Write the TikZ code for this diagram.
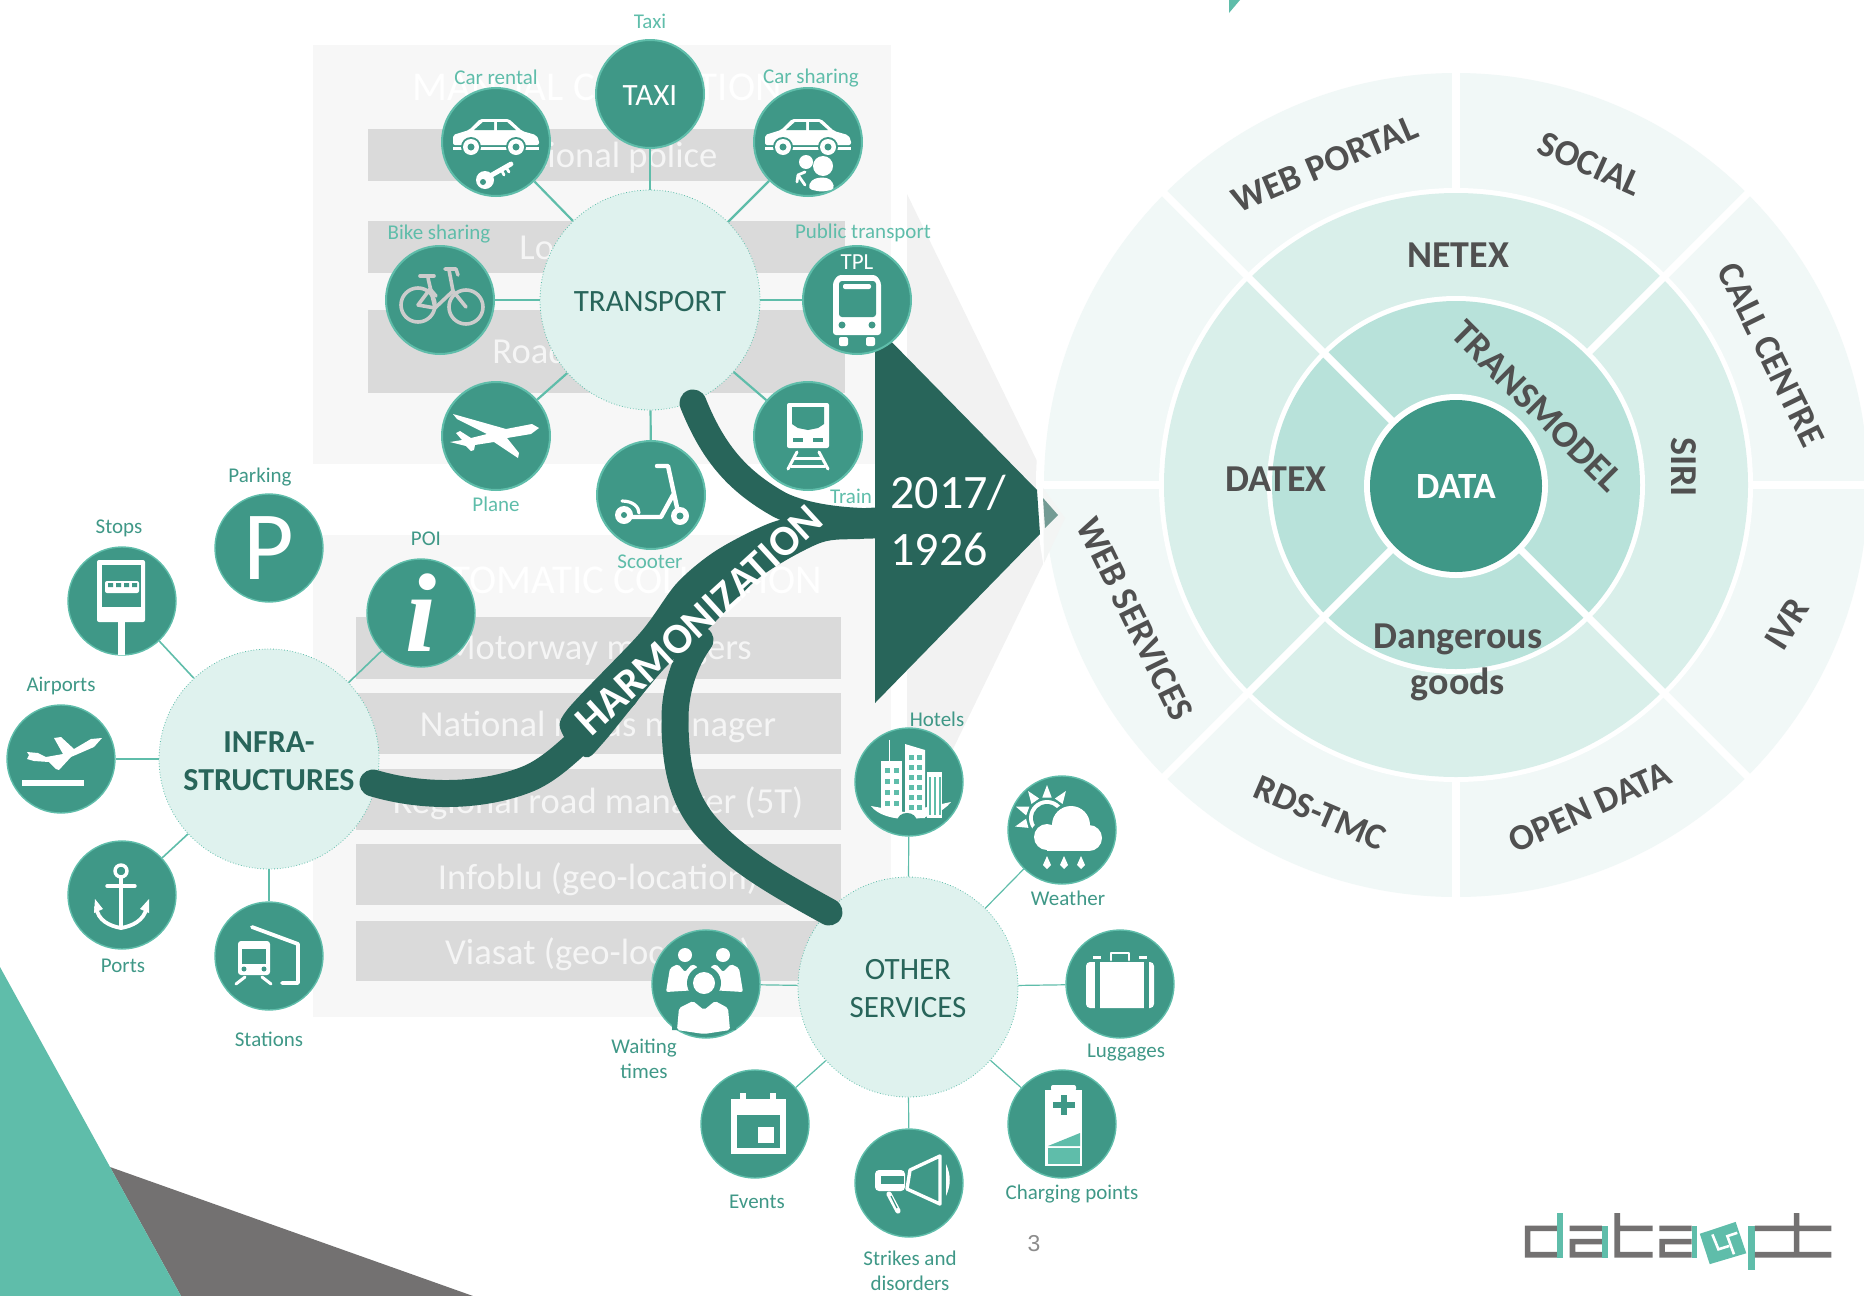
\documentclass[tikz,border=0pt]{standalone}
\usepackage{fontspec}
\setmainfont{Carlito}
\newfontfamily\poifont{Liberation Serif}
\newfontfamily\pagefont{Liberation Sans}
\usetikzlibrary{shapes.geometric, arrows.meta, positioning}
\definecolor{SvcTeal}{HTML}{3F9887}
\definecolor{MintTeal}{HTML}{5FBDAA}
\definecolor{FlowDark}{HTML}{28655A}
\definecolor{HubMint}{HTML}{DFF2EE}
\definecolor{RingOuter}{HTML}{F1F8F7}
\definecolor{RingMiddle}{HTML}{D9EFEA}
\definecolor{RingInner}{HTML}{B8E2DA}
\definecolor{WheelText}{HTML}{505050}
\definecolor{PanelGray}{HTML}{F7F7F7}
\definecolor{RowGray}{HTML}{DADADA}
\definecolor{LogoGray}{HTML}{737171}
\tikzset{
  hubnode/.style={circle, fill=HubMint, draw=MintTeal, densely dotted, line width=0.4pt,
    minimum size=110pt, inner sep=0pt},
  hubtext/.style={solid, text=FlowDark, align=center, inner sep=0pt, yshift=-1pt,
    font=\fontsize{15.5}{19}\selectfont},
  satnode/.style={circle, fill=SvcTeal, draw=MintTeal, line width=1pt,
    minimum size=54pt, inner sep=0pt, text=white},
  spoke/.style={draw=MintTeal, line width=1.1pt},
  blendlabel/.style={text=MintTeal, align=center, inner sep=0pt, font=\fontsize{10.5}{12.5}\selectfont},
  darklabel/.style={blendlabel, text=SvcTeal},
  rowtext/.style={text=white!96!black, inner sep=0pt, font=\fontsize{18.3}{22}\selectfont},
  headtext/.style={text=white, inner sep=0pt, font=\fontsize{20.5}{24}\selectfont},
  wheeltext/.style={text=WheelText, inner sep=0pt, align=center, font=\fontsize{19}{23}\selectfont\bfseries},
  rimtext/.style={wheeltext, font=\fontsize{18.3}{22}\selectfont\bfseries},
  flowline/.style={draw=FlowDark, line width=13.5pt, line cap=round},
  gapline/.style={draw=white, line width=3.6pt},
  cutout/.style={fill=SvcTeal},
  bikeline/.style={draw=black!20, line width=1.8pt, line cap=round, line join=round},
  iconline/.style={draw=white, line cap=round, line join=round},
  logobar/.style={fill=LogoGray},
  logoaccent/.style={fill=MintTeal},
}
\newcommand{\drawcar}{%
  \fill[white, rounded corners=1pt] (-43,3) -- (-43,-7) -- (-27,-12) -- (-16,-23) -- (13,-23) -- (26,-11) -- (40,-7) -- (43,-2) -- (43,3) -- cycle;
  \fill[cutout] (-22,-12) -- (-13,-20) -- (-2,-20) -- (-2,-12) -- cycle;
  \fill[cutout] (1,-12) -- (1,-20) -- (11,-20) -- (20,-12) -- cycle;
  \fill[white] (-43,5) rectangle (43,8);
  \foreach \wx in {-25,20} {
    \fill[cutout] (\wx,5) circle[radius=10];
    \fill[white] (\wx,5) circle[radius=8];
    \fill[cutout] (\wx,5) circle[radius=3.5];
  }%
}
\begin{document}
\begin{tikzpicture}[x=0.5pt, y=-0.5pt]
  \useasboundingbox (0,0) rectangle (1864,1296);

  % corner shapes
  \fill[LogoGray] (110,1167) -- (473,1296) -- (181,1296) -- cycle;
  \fill[MintTeal] (0,967) -- (181,1296) -- (0,1296) -- cycle;
  \fill[MintTeal] (1229,0) -- (1240,0) -- (1229,13) -- cycle;

  % grey panels
  \fill[PanelGray] (313,45) rectangle (891,464);
  \fill[PanelGray] (313,535) rectangle (891,1017);
  \fill[RowGray] (368,129) rectangle (845,181);
  \fill[RowGray] (368,221) rectangle (845,273);
  \fill[RowGray] (368,310) rectangle (845,393);
  \fill[RowGray] (356,617) rectangle (841,679);
  \fill[RowGray] (356,693) rectangle (841,754);
  \fill[RowGray] (356,769) rectangle (841,830);
  \fill[RowGray] (356,844) rectangle (841,905);
  \fill[RowGray] (356,921) rectangle (841,981);
  \node[headtext] (manualhead) at (597,87) {MANUAL COLLECTION};
  \node[headtext] (autohead) at (612,580) {AUTOMATIC COLLECTION};
  \node[rowtext] (rowpolice) at (606,158) {National police};
  \node[rowtext] (rowlocal) at (606,250) {Local police};
  \node[rowtext, anchor=west] (rowroad) at (492,354) {Road police};
  \node[rowtext] (rowmotor) at (598,651) {Motorway managers};
  \node[rowtext] (rownational) at (598,727) {National roads manager};
  \node[rowtext] (rowregional) at (598,803) {Regional road manager (5T)};
  \node[rowtext] (rowinfoblu) at (598,879) {Infoblu (geo-location)};
  \node[rowtext] (rowviasat) at (598,954) {Viasat (geo-location)};

  % wheel
  \fill[black!5] (907,194) -- (1037,461) -- (1043,564) -- (953,749) -- (907,749) -- cycle;
  \coordinate (wheel) at (1456,485);
  \fill[white] (wheel) circle[radius=420];
  \fill[RingOuter] (wheel) circle[radius=412];
  \fill[white] (wheel) circle[radius=297];
  \fill[RingMiddle] (wheel) circle[radius=292];
  \fill[white] (wheel) circle[radius=189];
  \fill[RingInner] (wheel) circle[radius=184];
  \begin{scope}[shift={(wheel)}]
    \foreach \ang in {45,135,225}
      \draw[gapline] (\ang:90) -- (\ang:418);
    \draw[gapline] (315:186) -- (315:418);
    \foreach \ang in {0,90,180,270}
      \draw[gapline] (\ang:295) -- (\ang:418);
  \end{scope}
  \fill[white] (1456,486) circle[radius=92];
  \node[circle, fill=SvcTeal, minimum size=86pt, inner sep=0pt, text=white,
    font=\fontsize{18.5}{22}\selectfont\bfseries] (datacore) at (1456,486) {DATA};
  \node[rimtext, rotate=23] (webportal) at (1325,164) {WEB PORTAL};
  \node[rimtext, rotate=-24] (social) at (1590,164) {SOCIAL};
  \node[rimtext, rotate=-64] (callcentre) at (1771,355) {CALL CENTRE};
  \node[rimtext, rotate=58] (ivr) at (1787,624) {IVR};
  \node[rimtext, rotate=24] (opendata) at (1590,807) {OPEN DATA};
  \node[rimtext, rotate=-23] (rdstmc) at (1320,813) {RDS-TMC};
  \node[rimtext, rotate=-64] (webservices) at (1135,619) {WEB SERVICES};
  \node[wheeltext] (netex) at (1458,255) {NETEX};
  \node[wheeltext] (datex) at (1276,479) {DATEX};
  \node[wheeltext, rotate=-90] (siri) at (1684,467) {SIRI};
  \node[wheeltext, rotate=-45] (transmodel) at (1537,406) {TRANSMODEL};
  \node[wheeltext] (dangerous) at (1458,662) {Dangerous\\goods};

  % big arrow
  \fill[RingMiddle!70!black!12] (1043,488) -- (1065,518) -- (1044,563) -- cycle;
  \fill[FlowDark!65] (1043,498) -- (1058,515) -- (1045,528) -- cycle;
  \fill[FlowDark] (875,325) -- (1037,490) -- (1040,534) -- (875,703) -- cycle;
  \node[inner sep=0pt, anchor=west, text=white, align=left, font=\fontsize{24}{28.5}\selectfont] (yeartext) at (890,521) {2017/\\1926};

  % transport
  \node[hubnode, label={[hubtext]center:TRANSPORT}] (transport) at (650,300) {};
  \node[satnode, label={[hubtext, text=white]center:TAXI}] (taxi) at (650,94) {};
  \node[satnode] (carrental) at (496,142) {};
  \node[satnode] (carsharing) at (808,142) {};
  \node[satnode] (bikesharing) at (440,300) {};
  \node[satnode] (tpl) at (857,300) {};
  \node[satnode] (plane) at (496,436) {};
  \node[satnode] (train) at (808,436) {};
  \node[satnode] (scooter) at (651,495) {};
  \foreach \sat in {taxi,carrental,carsharing,bikesharing,tpl,plane,train,scooter}
    \draw[spoke] (transport) -- (\sat);

  % infrastructures
  \node[hubnode, label={[hubtext, font=\fontsize{16}{19}\selectfont\bfseries]center:INFRA-\\STRUCTURES}] (infra) at (269,759) {};
  \node[satnode, line width=0.7pt, font=\fontsize{49}{50}\selectfont] (parking) at (269,548) {P};
  \node[satnode, line width=0.7pt] (stops) at (122,601) {};
  \node[satnode, line width=0.7pt, font=\poifont\bfseries\itshape\fontsize{56}{56}\selectfont] (poi) at (421,613) {i};
  \node[satnode, line width=0.7pt] (airports) at (61,759) {};
  \node[satnode, line width=0.7pt] (ports) at (122,895) {};
  \node[satnode, line width=0.7pt] (stations) at (269,956) {};
  \foreach \sat in {stops,poi,airports,ports,stations}
    \draw[spoke, line width=0.8pt] (infra) -- (\sat);

  % other services
  \node[hubnode, label={[hubtext]center:OTHER\\SERVICES}] (other) at (908,987) {};
  \node[satnode, line width=0.7pt] (hotels) at (909,782) {};
  \node[satnode, line width=0.7pt] (weather) at (1062,830) {};
  \node[satnode, line width=0.7pt] (luggages) at (1120,984) {};
  \node[satnode, line width=0.7pt] (charging) at (1062,1124) {};
  \node[satnode, line width=0.7pt] (strikes) at (909,1183) {};
  \node[satnode, line width=0.7pt] (events) at (755,1124) {};
  \node[satnode, line width=0.7pt] (waiting) at (706,984) {};
  \foreach \sat in {hotels,weather,luggages,charging,strikes,events,waiting}
    \draw[spoke, line width=0.6pt] (other) -- (\sat);

  % harmonization flows
  \coordinate (flowinfra) at (373,783);
  \coordinate (flowtransport) at (693,403);
  \coordinate (flowother) at (829,912);
  \coordinate (flowarrow) at (885,522);
  \draw[flowline] (flowinfra) .. controls (430,800) and (490,795) .. (530,778) .. controls (552,768) and (570,750) .. (600,722) -- (625,695);
  \draw[flowline] (flowtransport) .. controls (712,450) and (735,480) .. (780,505) .. controls (805,517) and (840,522) .. (flowarrow);
  \draw[flowline] (flowother) .. controls (780,885) and (735,860) .. (705,825) .. controls (680,795) and (675,760) .. (675,718) .. controls (675,690) and (685,660) .. (700,640);
  \fill[FlowDark] plot[smooth cycle] coordinates {(562,733) (567,710) (640,633) (677,583) (717,550) (773,522) (827,512) (880,508) (885,522) (880,537) (860,539) (820,543) (760,577) (710,627) (663,670) (603,743) (585,757)};
  \node[inner sep=0pt, rotate=42.5, text=white, font=\fontsize{21.5}{24}\selectfont\bfseries] (harmonization) at (699,620) {HARMONIZATION};

  % icons of the transport ring
  \begin{scope}[shift={(carrental.center)}]
    \drawcar
    \fill[white] (-11,38) circle[radius=9];
    \fill[cutout] (-13,40) circle[radius=3];
    \draw[iconline, line width=2.4pt] (-6,34) -- (15,22);
    \draw[iconline, line width=1.4pt] (5,27) -- (8,33) (10,25) -- (13,30);
  \end{scope}
  \begin{scope}[shift={(carsharing.center)}]
    \drawcar
    \fill[white] (15,24) circle[radius=10];
    \fill[white, rounded corners=2pt] (0,47) -- (3,38) -- (13,35) -- (23,37) -- (27,47) -- (14,50) -- cycle;
    \fill[white] (-2,20) circle[radius=7];
    \draw[iconline, line width=1.4pt] (-10,33) -- (-3,43);
    \draw[iconline, line width=1.4pt] (-10,33) -- (-3,30) (-10,33) -- (-11,40);
  \end{scope}
  \begin{scope}[shift={(bikesharing.center)}]
    \draw[bikeline] (-22,5) circle[radius=17];
    \draw[bikeline] (26,7) circle[radius=17];
    \draw[bikeline] (-22,5) -- (-5,8) -- (13,-9) -- (26,7);
    \draw[bikeline] (-12,-22) -- (-5,8);
    \draw[bikeline] (-22,5) -- (-10,-11) -- (-4,-4);
    \draw[bikeline] (13,-9) -- (9,-30);
    \draw[bikeline] (-20,-24) -- (-6,-24);
    \draw[bikeline] (5,-31) -- (16,-31) -- (18,-25);
  \end{scope}
  \begin{scope}[shift={(tpl.center)}]
    \node[text=white, inner sep=0pt, font=\fontsize{11.5}{13}\selectfont] (tpltext) at (0,-38) {TPL};
    \fill[white, rounded corners=1.5pt] (-24,-18) -- (-19,-25) -- (19,-25) -- (24,-18) -- (24,35) -- (-24,35) -- cycle;
    \fill[cutout, rounded corners=1.5pt] (-18,-19) rectangle (19,17);
    \fill[white, rounded corners=1pt] (-14,-16) rectangle (14,-11);
    \fill[cutout] (-15,25) circle[radius=3.5];
    \fill[cutout] (15,25) circle[radius=3.5];
    \fill[white, rounded corners=1pt] (-18,37) rectangle (-9,46);
    \fill[white, rounded corners=1pt] (9,37) rectangle (18,46);
  \end{scope}
  \begin{scope}[shift={(plane.center)}]
    \fill[white] (43,-8) -- (36,-12) -- (10,-7) -- (-43,-22) -- (-39,-17) -- (-9,-2) -- (-25,2) -- (-36,-5) -- (-40,-3) -- (-34,4) -- (-46,6) -- (-30,10) -- (-25,15) -- (-22,14) -- (-21,9) -- (-2,6) -- (22,22) -- (23,17) -- (11,2) -- (35,-2) -- cycle;
  \end{scope}
  \begin{scope}[shift={(train.center)}]
    \fill[white, rounded corners=1pt] (-21,-33) rectangle (21,12);
    \fill[cutout] (-16,-29) -- (16,-29) -- (16,-12) -- (10,-8) -- (0,-6) -- (-10,-8) -- (-16,-12) -- cycle;
    \fill[cutout] (-15,2) rectangle (-5,6);
    \fill[cutout] (5,2) rectangle (15,6);
    \draw[iconline, line width=1.5pt] (-11,16) -- (-20,33) (11,16) -- (20,33);
    \draw[iconline, line width=1.5pt] (-14,22) -- (14,22) (-17,30) -- (17,30);
  \end{scope}
  \begin{scope}[shift={(scooter.center)}]
    \draw[iconline, line width=2.2pt] (6,-29) -- (17,-29) -- (27,17);
    \draw[iconline, line width=2.2pt] (-24,22) -- (10,22) -- (22,0);
    \fill[white] (-27,20) circle[radius=9];
    \fill[cutout] (-27,20) circle[radius=3];
    \draw[iconline, line width=1.6pt] (-29,6) .. controls (-18,6) and (-12,12) .. (-12,18);
    \fill[white] (29,21) circle[radius=9];
    \fill[cutout] (29,21) circle[radius=3.5];
  \end{scope}

  % icons of the infrastructure ring
  \begin{scope}[shift={(stops.center)}]
    \fill[white, rounded corners=1pt] (-25,-41) rectangle (23,21);
    \fill[cutout] (-20,-36) rectangle (19,6);
    \fill[white, rounded corners=1pt] (-17,-20) rectangle (17,-8);
    \fill[cutout] (-14,-18) rectangle (-9,-14) (-6,-18) rectangle (-1,-14) (2,-18) rectangle (7,-14) (10,-18) rectangle (15,-14);
    \fill[white] (-4,21) rectangle (3,54);
  \end{scope}
  \begin{scope}[shift={(airports.center)}]
    \fill[white] (-39,21) rectangle (23,27);
    \fill[white] (41,-21) -- (30,-20) -- (13,-10) -- (0,-22) -- (-7,-21) -- (2,-5) -- (-15,-2) -- (-23,-6) -- (-34,-7) -- (-32,-4) -- (-34,0) -- (-27,2) -- (-12,3) -- (-5,10) -- (-5,10) -- (-2,11) -- (10,-2) -- (33,-12) -- cycle;
  \end{scope}
  \begin{scope}[shift={(ports.center)}]
    \draw[iconline, line width=1.7pt] (-1,-24) circle[radius=6];
    \draw[iconline, line width=1.9pt] (-1,-18) -- (-1,33);
    \draw[iconline, line width=1.7pt] (-15,-9) -- (13,-9);
    \draw[iconline, line width=1.9pt] (-26,12) .. controls (-24,26) and (-12,31) .. (-1,33) .. controls (10,31) and (22,26) .. (25,12);
    \fill[white] (-28,18) -- (-27,4) -- (-19,14) -- cycle;
    \fill[white] (27,18) -- (27,4) -- (18,14) -- cycle;
  \end{scope}
  \begin{scope}[shift={(stations.center)}]
    \fill[white, rounded corners=1.5pt] (-31,-15) rectangle (1,19);
    \fill[cutout] (-27,-7) rectangle (-3,8);
    \fill[cutout] (-25,13) circle[radius=2.5];
    \fill[cutout] (-5,13) circle[radius=2.5];
    \draw[iconline, line width=1.5pt] (-24,21) -- (-33,28);
    \draw[iconline, line width=1.5pt] (-7,21) -- (2,28);
    \draw[iconline, line width=1.9pt] (-17,-29) -- (29,-12) -- (29,27) -- (13,27);
  \end{scope}

  % icons of the services ring
  \begin{scope}[shift={(hotels.center)}]
    \fill[white] (-38,24) .. controls (-25,42) and (25,42) .. (42,20) -- (-5,30) -- cycle;
    \fill[white] (-28,-21) rectangle (-7,32);
    \fill[white] (-20,-42) rectangle (-19,-21);
    \fill[white] (-4,-38) -- (16,-32) -- (16,36) -- (-4,36) -- cycle;
    \fill[white] (18,-10) rectangle (33,36);
    \foreach \wx in {-24,-15} \foreach \wy in {-14,-3,8,19}
      \fill[MintTeal] (\wx,\wy) rectangle ++(5,5);
    \foreach \wx in {0,8} \foreach \wy in {-27,-17,-7,3,13,23}
      \fill[MintTeal] (\wx,\wy) rectangle ++(5,5);
    \foreach \wx in {20,25,30} \fill[MintTeal] (\wx,-5) rectangle ++(1.5,38);
    \fill[SvcTeal] (-12,40) .. controls (-12,28) and (8,28) .. (8,40) -- cycle;
  \end{scope}
  \begin{scope}[shift={(weather.center)}]
    \begin{scope}[shift={(-15,-12)}]
      \foreach \ang in {165,200,235,270,305,340}
        \fill[white] (\ang:33) -- (\ang+13:21) -- (\ang-13:21) -- cycle;
    \end{scope}
    \fill[white] (-15,-12) circle[radius=18];
    \fill[cutout] (-15,-12) circle[radius=14];
    \fill[cutout] (9,-5) circle[radius=22];
    \fill[cutout] (-15,7) circle[radius=17];
    \fill[white] (9,-5) circle[radius=19];
    \fill[white] (-15,7) circle[radius=13];
    \fill[white] (27,8) circle[radius=13];
    \fill[white] (-15,5) rectangle (27,21);
    \foreach \wx in {-15,2,19}
      \fill[white] (\wx,26) -- (\wx-4,35) -- (\wx,39) -- (\wx+4,35) -- cycle;
  \end{scope}
  \begin{scope}[shift={(luggages.center)}]
    \fill[white, rounded corners=2pt] (-34,-22) rectangle (34,24);
    \fill[cutout] (-25,-23) rectangle (-20,25);
    \fill[cutout] (24,-23) rectangle (29,25);
    \draw[iconline, line width=1.4pt] (-9,-24) -- (-9,-31) -- (9,-31) -- (9,-24);
    \fill[white] (-27,-28) rectangle (-19,-25);
    \fill[white] (19,-28) rectangle (27,-25);
  \end{scope}
  \begin{scope}[shift={(charging.center)}]
    \fill[white] (-17,-34) rectangle (20,42);
    \fill[white, rounded corners=1pt] (-11,-39) rectangle (14,-33);
    \fill[cutout] (-1,-29) rectangle (5,-9);
    \fill[cutout] (-9,-22) rectangle (13,-16);
    \fill[MintTeal] (-14,24) rectangle (18,40);
    \fill[MintTeal] (-14,22) -- (18,9) -- (18,22) -- cycle;
  \end{scope}
  \begin{scope}[shift={(strikes.center)}]
    \draw[iconline, line width=1.7pt] (1,-13) -- (31,-27) -- (31,21) -- (-2,6) -- cycle;
    \fill[white] (37,-19) .. controls (42,-8) and (42,2) .. (37,13) -- cycle;
    \fill[white, rounded corners=2pt] (-34,-13) rectangle (-4,8);
    \fill[cutout] (-28,-7) rectangle (-5,1);
    \draw[iconline, line width=2.6pt] (-20,11) -- (-11,28);
    \draw[cutout, draw=SvcTeal, line width=0.6pt] (-18,13) -- (-12,25);
  \end{scope}
  \begin{scope}[shift={(events.center)}]
    \fill[white] (-24,-25) rectangle (31,30);
    \fill[white] (-15,-31) rectangle (-9,-25);
    \fill[white] (15,-31) rectangle (21,-25);
    \fill[cutout] (-18,-9) rectangle (25,24);
    \fill[white] (3,3) rectangle (19,19);
  \end{scope}
  \begin{scope}[shift={(waiting.center)}]
    \fill[white] (-21,-29) circle[radius=7];
    \fill[white] (17,-29) circle[radius=7];
    \fill[white, rounded corners=1pt] (-40,8) -- (-36,-16) -- (-28,-20) -- (-21,-12) -- (-14,-20) -- (-8,-17) -- (-8,6) -- cycle;
    \fill[white, rounded corners=1pt] (37,8) -- (33,-16) -- (25,-20) -- (17,-12) -- (10,-20) -- (4,-17) -- (4,6) -- cycle;
    \fill[cutout] (-2,-1) circle[radius=17];
    \fill[cutout] (-34,46) -- (-34,20) -- (-14,10) -- (10,10) -- (30,20) -- (30,46) -- cycle;
    \fill[white] (-2,-1) circle[radius=11];
    \fill[white, rounded corners=1pt] (-29,46) -- (-27,24) -- (-13,17) -- (-2,26) -- (9,17) -- (22,24) -- (24,46) -- (-2,50) -- cycle;
  \end{scope}

  % labels
  \node[blendlabel] (lbltaxi) at (650,21) {Taxi};
  \node[blendlabel] (lblcarrental) at (496,77) {Car rental};
  \node[blendlabel] (lblcarsharing) at (811,78) {Car sharing};
  \node[blendlabel] (lblbike) at (439,234) {Bike sharing};
  \node[blendlabel] (lblpublic) at (863,233) {Public transport};
  \node[blendlabel] (lblplane) at (496,504) {Plane};
  \node[blendlabel] (lbltrain) at (851,496) {Train};
  \node[blendlabel] (lblscooter) at (650,562) {Scooter};
  \node[darklabel] (lblparking) at (260,477) {Parking};
  \node[darklabel] (lblstops) at (119,528) {Stops};
  \node[darklabel] (lblpoi) at (426,539) {POI};
  \node[darklabel] (lblairports) at (61,686) {Airports};
  \node[darklabel] (lblports) at (123,966) {Ports};
  \node[darklabel] (lblstations) at (269,1039) {Stations};
  \node[darklabel] (lblhotels) at (937,719) {Hotels};
  \node[darklabel] (lblweather) at (1068,898) {Weather};
  \node[darklabel] (lblluggages) at (1126,1053) {Luggages};
  \node[darklabel] (lblcharging) at (1072,1194) {Charging points};
  \node[darklabel] (lblstrikes) at (910,1271) {Strikes and\\disorders};
  \node[darklabel] (lblevents) at (757,1202) {Events};
  \node[darklabel] (lblwaiting) at (644,1059) {Waiting\\times};
  \node[inner sep=0pt, text=black!45, font=\pagefont\fontsize{11.5}{14}\selectfont] (pagenum) at (1034,1244) {3};

  % logo
  \begin{scope}[shift={(1480,1180)}, x=0.166pt, y=-0.165pt]
    \fill[logobar] (135,138) rectangle (232,155) (135,138) rectangle (152,235) (135,218) rectangle (232,235);
    \fill[logoaccent] (232,100) rectangle (250,235);
    \fill[logobar] (270,138) rectangle (367,155) (270,178) rectangle (367,195) (270,178) rectangle (287,235) (270,218) rectangle (367,235);
    \fill[logoaccent] (367,138) rectangle (385,235);
    \fill[logobar] (405,100) rectangle (422,235) (405,138) rectangle (520,155) (405,218) rectangle (520,235);
    \fill[logobar] (540,138) rectangle (637,155) (540,178) rectangle (637,195) (540,178) rectangle (557,235) (540,218) rectangle (637,235);
    \fill[logoaccent] (637,138) rectangle (655,235);
    \fill[logoaccent] (662,163) -- (770,127) -- (802,222) -- (692,255) -- cycle;
    \draw[white, line width=1.3pt] (700,165) -- (718,210) -- (750,200) (775,160) -- (745,170) -- (765,225);
    \fill[logoaccent] (808,138) rectangle (828,272);
    \fill[logobar] (828,138) rectangle (945,155) (828,218) rectangle (945,235);
    \fill[logobar] (945,100) rectangle (962,235) (945,138) rectangle (1058,155) (945,218) rectangle (1058,235);
  \end{scope}
\end{tikzpicture}
\end{document}
